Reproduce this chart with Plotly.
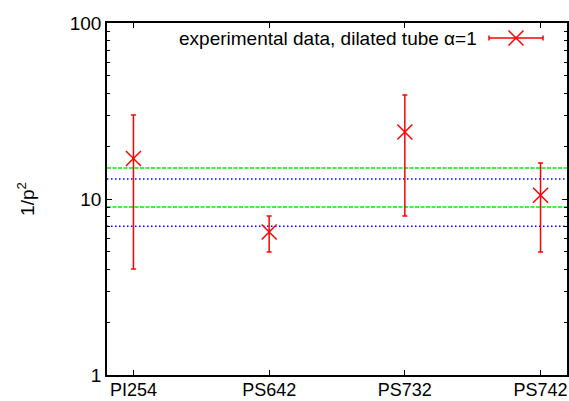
import plotly.graph_objects as go

# ---- data ----
categories = ["PI254", "PS642", "PS732", "PS742"]
values = [17.0, 6.5, 24.0, 10.5]
err_high = [30.0, 8.0, 39.0, 16.0]
err_low = [4.0, 5.0, 8.0, 5.0]
green_levels = [15.0, 9.0]
blue_levels = [13.0, 7.0]
ytick_vals = [1, 10, 100]
ytick_text = ["1", "10", "100"]
legend_label = "experimental data, dilated tube \u03b1=1"

W, H = 569, 401
ML, MR, MT, MB = 107, 2, 23, 26
pw = W - ML - MR
ph = H - MT - MB

def px_x(px):
    return (px - ML) / pw

def px_y(py):
    return 1 - (py - MT) / ph

xpos = list(range(len(categories)))
plus = [h - v for h, v in zip(err_high, values)]
minus = [v - l for v, l in zip(values, err_low)]

RED = "#ff0000"
FONT = "Liberation Sans, Arial, sans-serif"
FS = 19

fig = go.Figure()
fig.add_trace(go.Scatter(
    x=xpos, y=values, mode="markers",
    marker=dict(symbol="x-thin", size=15, line=dict(color=RED, width=1.5), color=RED),
    error_y=dict(type="data", symmetric=False, array=plus, arrayminus=minus,
                 color=RED, thickness=1.5, width=2.5),
    showlegend=False,
))

shapes = []
for lv in green_levels:
    shapes.append(dict(type="line", xref="paper", yref="y", x0=0, x1=1, y0=lv, y1=lv,
                       line=dict(color="#00ee00", width=1.5, dash="4px,1.5px"), layer="below"))
for lv in blue_levels:
    shapes.append(dict(type="line", xref="paper", yref="y", x0=0, x1=1, y0=lv, y1=lv,
                       line=dict(color="#0000ff", width=1.5, dash="1.5px,2.5px"), layer="below"))

# legend sample (error bar + X)
lx0, lx1, ly = 489, 543, 38
shapes.append(dict(type="line", xref="paper", yref="paper", x0=px_x(lx0), x1=px_x(lx1),
                   y0=px_y(ly), y1=px_y(ly), line=dict(color=RED, width=1.5)))
for lx in (lx0, lx1):
    shapes.append(dict(type="line", xref="paper", yref="paper", x0=px_x(lx), x1=px_x(lx),
                       y0=px_y(ly - 2.5), y1=px_y(ly + 2.5), line=dict(color=RED, width=1.5)))

fig.add_trace(go.Scatter(
    x=[px_x((lx0 + lx1) / 2)], y=[px_y(ly)], xaxis="x2", yaxis="y2", mode="markers",
    marker=dict(symbol="x-thin", size=15, line=dict(color=RED, width=1.5), color=RED),
    showlegend=False, hoverinfo="skip",
))

fig.update_layout(
    width=W, height=H,
    margin=dict(l=ML, r=MR, t=MT, b=MB, pad=0),
    paper_bgcolor="white", plot_bgcolor="white",
    font=dict(family=FONT, size=FS, color="black"),
    shapes=shapes,
    showlegend=False,
    xaxis=dict(
        range=[-0.195, 3.195], tickvals=xpos, ticktext=categories,
        ticks="inside", ticklen=5, tickwidth=1, tickcolor="black",
        showline=True, linecolor="black", linewidth=1.5, mirror="allticks",
        showgrid=False, zeroline=False, tickfont=dict(size=18), automargin=False,
        ticklabeloverflow="allow", ticklabelstandoff=-2,
    ),
    yaxis=dict(
        type="log", range=[0, 2], tickvals=ytick_vals, ticktext=ytick_text,
        ticks="inside", ticklen=5, tickwidth=1, tickcolor="black",
        showline=True, linecolor="black", linewidth=1.5, mirror="allticks",
        showgrid=False, zeroline=False, tickfont=dict(size=FS), automargin=False,
        ticklabeloverflow="allow",
        minor=dict(ticks="inside", ticklen=3, tickcolor="black", dtick="D1", showgrid=False),
        title=dict(text="1/p<sup>2</sup>", standoff=30, font=dict(size=FS)),
    ),
    xaxis2=dict(overlaying="x", range=[0, 1], visible=False, domain=[0, 1]),
    yaxis2=dict(overlaying="y", range=[0, 1], visible=False),
    annotations=[dict(
        xref="paper", yref="paper", x=px_x(479), y=px_y(ly), xanchor="right", yanchor="middle",
        text=legend_label, showarrow=False, font=dict(size=FS, color="black"),
    )],
)

fig.write_html("out.html")
